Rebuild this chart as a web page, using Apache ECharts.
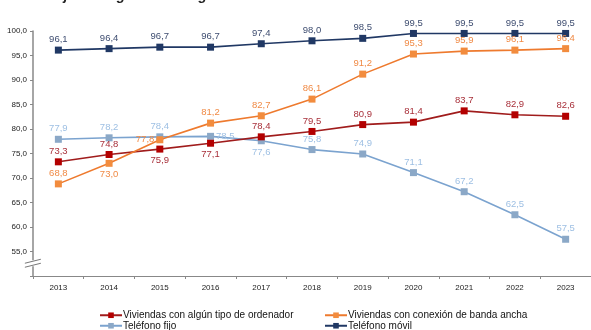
<!DOCTYPE html>
<html><head><meta charset="utf-8">
<script src="https://cdn.jsdelivr.net/npm/echarts@6/dist/echarts.min.js"></script>
<style>html,body{margin:0;padding:0;background:#fff}#c{width:591px;height:330px}</style>
</head><body><div id="c"></div>
<script>
const titleText = 'Porcentaje de hogares con algún miembro de 16 a 74 años';
const years = ['2013','2014','2015','2016','2017','2018','2019','2020','2021','2022','2023'];
const ordenador = [73.3, 74.8, 75.9, 77.1, 78.4, 79.5, 80.9, 81.4, 83.7, 82.9, 82.6];
const bandaAncha = [68.8, 73.0, 77.8, 81.2, 82.7, 86.1, 91.2, 95.3, 95.9, 96.1, 96.4];
const fijo = [77.9, 78.2, 78.4, 78.5, 77.6, 75.8, 74.9, 71.1, 67.2, 62.5, 57.5];
const movil = [96.1, 96.4, 96.7, 96.7, 97.4, 98.0, 98.5, 99.5, 99.5, 99.5, 99.5];
const seriesNames = ['Viviendas con algún tipo de ordenador','Viviendas con conexión de banda ancha','Teléfono fijo','Teléfono móvil'];

// label placement overrides (index -> position)
const placeOrdenador = {2:'bottom',3:'bottom'};
const placeBanda = {1:'bottom',2:'left'};
const placeFijo = {3:'right',4:'bottom'};

const font = 'Liberation Sans, Arial, sans-serif';
const fmt = v => v.toFixed(1).replace('.', ',');

function mk(name, vals, line, marker, labelColor, place, z) {
  return {
    name, type:'line', data: vals.map((v,i)=>{
      const p = place[i];
      const o = {value:v};
      if (p) {
        o.label = {position: p};
        if (p==='right') o.label.offset=[-2,-5];
        if (p==='left') o.label.offset=[0,0];
        if (p==='bottom') o.label.distance=3;
      }
      return o;
    }),
    z,
    symbol:'rect', symbolSize:7, showAllSymbol:true,
    lineStyle:{color:line, width:1.6},
    itemStyle:{color:marker},
    label:{show:true, position:'top', distance:2, color:labelColor, fontSize:9.5, lineHeight:10, fontFamily:font,
      formatter: p => fmt(p.value)},
    labelLayout:{moveOverlap:false},
    emphasis:{disabled:true}, animation:false
  };
}

const chart = echarts.init(document.getElementById('c'), null, {renderer:'canvas'});
const legendText = {fontSize:10, color:'#111', fontFamily:font, lineHeight:10.5, padding:[0,0,0,-4]};
chart.setOption({
  animation:false,
  grid:{left:33, right:-2, top:31, bottom:54},
  xAxis:{type:'category', data:years, boundaryGap:true,
    axisLine:{lineStyle:{color:'#888', width:1}},
    axisTick:{show:true, length:3, lineStyle:{color:'#888'}},
    axisLabel:{fontSize:8, color:'#222', fontFamily:font, margin:8}},
  yAxis:{type:'value', min:50, max:100, interval:5,
    axisLine:{show:true, lineStyle:{color:'#888', width:1.5}},
    axisTick:{show:true, length:3, lineStyle:{color:'#888'}},
    splitLine:{show:false},
    axisLabel:{fontSize:8, color:'#222', fontFamily:font, margin:6,
      formatter: v => v===50 ? '' : fmt(v)}},
  legend:[
    {data:[seriesNames[0], seriesNames[2]], orient:'vertical', left:99, top:310, height:22, itemGap:0, itemWidth:22, itemHeight:7, textStyle:legendText, padding:0},
    {data:[seriesNames[1], seriesNames[3]], orient:'vertical', left:324, top:310, height:22, itemGap:0, itemWidth:22, itemHeight:7, textStyle:legendText, padding:0}
  ],
  series:[
    mk(seriesNames[2], fijo, '#7BA3CF', '#8BA8C7', '#9DBFE3', placeFijo, 2),
    mk(seriesNames[0], ordenador, '#A01C1C', '#B30000', '#A8303A', placeOrdenador, 3),
    mk(seriesNames[3], movil, '#203864', '#203864', '#3E4D70', {}, 4),
    mk(seriesNames[1], bandaAncha, '#EE7A2E', '#F28C3E', '#F08A45', placeBanda, 5)
  ]
});
// axis break mark + clipped title
const yb = chart.convertToPixel({yAxisIndex:0}, 52.4);
const x0 = chart.convertToPixel({xAxisIndex:0}, 0) - 25.5;
chart.setOption({graphic:[
  {type:'text', left:4, top:-11, style:{text:titleText, font:'italic bold 14px Liberation Sans, Arial, sans-serif', fill:'#222'}},
  {type:'rect', shape:{x:x0-7, y:yb-4, width:14, height:6}, style:{fill:'#fff'}, z:100},
  {type:'line', shape:{x1:x0-8, y1:yb-1, x2:x0+8, y2:yb-5}, style:{stroke:'#777', lineWidth:1}, z:101},
  {type:'line', shape:{x1:x0-8, y1:yb+3, x2:x0+8, y2:yb-1}, style:{stroke:'#777', lineWidth:1}, z:101}
]});
</script></body></html>
